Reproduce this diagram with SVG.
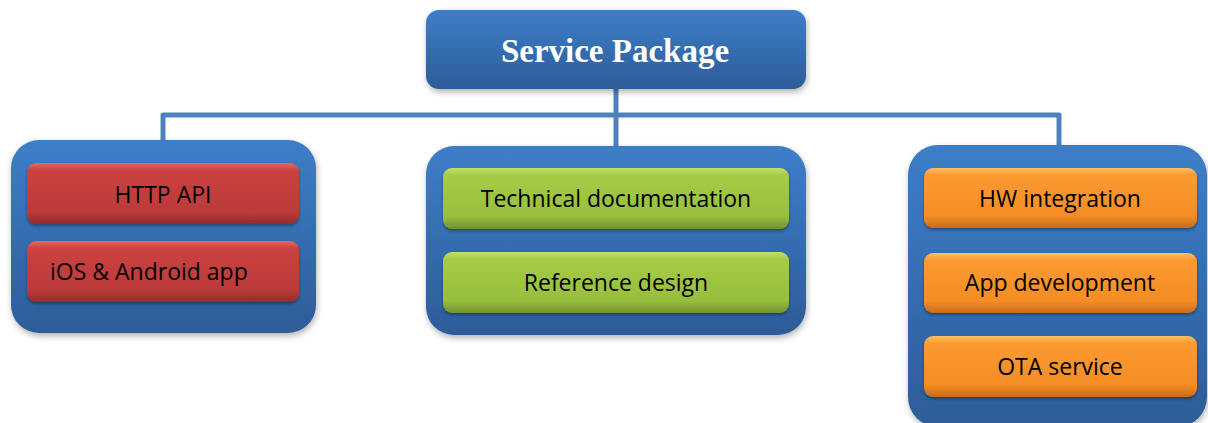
<svg xmlns="http://www.w3.org/2000/svg" width="1208" height="423" viewBox="0 0 1208 423">
<defs>
<linearGradient id="gBlue" x1="0" y1="0" x2="0" y2="1">
<stop offset="0" stop-color="#3d7ec9"/>
<stop offset="1" stop-color="#2d5c98"/>
</linearGradient>
<linearGradient id="gRed" x1="0" y1="0" x2="0" y2="1">
<stop offset="0" stop-color="#e06a67"/>
<stop offset="0.12" stop-color="#cc4240"/>
<stop offset="0.8" stop-color="#bb3a39"/>
<stop offset="1" stop-color="#962b2b"/>
</linearGradient>
<linearGradient id="gGreen" x1="0" y1="0" x2="0" y2="1">
<stop offset="0" stop-color="#c4e26a"/>
<stop offset="0.12" stop-color="#a6cb46"/>
<stop offset="0.8" stop-color="#97be3d"/>
<stop offset="1" stop-color="#738f32"/>
</linearGradient>
<linearGradient id="gOrange" x1="0" y1="0" x2="0" y2="1">
<stop offset="0" stop-color="#ffc064"/>
<stop offset="0.12" stop-color="#fb9a32"/>
<stop offset="0.8" stop-color="#f48d25"/>
<stop offset="1" stop-color="#c86c1a"/>
</linearGradient>
<filter id="sh" x="-10%" y="-10%" width="120%" height="130%">
<feDropShadow dx="1" dy="3" stdDeviation="3" flood-color="#000" flood-opacity="0.3"/>
</filter>
<filter id="sh2" x="-10%" y="-10%" width="120%" height="140%">
<feDropShadow dx="0" dy="2" stdDeviation="1.5" flood-color="#000" flood-opacity="0.35"/>
</filter>
</defs>
<style>
.cont{fill:url(#gBlue);filter:url(#sh);}
.red{fill:url(#gRed);filter:url(#sh2);}
.green{fill:url(#gGreen);filter:url(#sh2);}
.orange{fill:url(#gOrange);filter:url(#sh2);}
.lbl{font-family:"Open Sans","Liberation Sans",sans-serif;font-size:23px;fill:#000;text-anchor:middle;}
.title{font-family:"Liberation Serif","DejaVu Serif",serif;font-weight:bold;font-size:33px;fill:#fff;text-anchor:middle;}
.conn{fill:none;stroke:#4f81bd;stroke-width:5;stroke-linejoin:round;}
</style>
<rect width="1208" height="423" fill="#fff"/>
<g id="connectors">
<path class="conn" d="M163,141 V115 H1059 V146"/>
<path class="conn" d="M616,88 V147"/>
</g>
<g id="root">
<rect class="cont" x="426" y="10" width="380" height="79" rx="13"/>
<text class="title" x="615" y="62">Service Package</text>
</g>
<g id="group-left">
<rect class="cont" x="11" y="140" width="305" height="193" rx="28"/>
</g>
<g id="http-api">
<rect class="red" x="27" y="163" width="272" height="61" rx="9"/>
<text class="lbl" x="163" y="203">HTTP API</text>
</g>
<g id="ios-android">
<rect class="red" x="27" y="241" width="272" height="61" rx="9"/>
<text class="lbl" x="50" y="280" style="text-anchor:start">iOS &amp; Android app</text>
</g>
<g id="group-center">
<rect class="cont" x="426" y="146" width="380" height="189" rx="28"/>
</g>
<g id="tech-doc">
<rect class="green" x="443" y="168" width="346" height="61" rx="9"/>
<text class="lbl" x="616" y="207">Technical documentation</text>
</g>
<g id="ref-design">
<rect class="green" x="443" y="252" width="346" height="61" rx="9"/>
<text class="lbl" x="616" y="291">Reference design</text>
</g>
<g id="group-right">
<rect class="cont" x="908" y="145" width="299" height="282" rx="30"/>
</g>
<g id="hw-int">
<rect class="orange" x="924" y="168" width="273" height="60" rx="9"/>
<text class="lbl" x="1060" y="207">HW integration</text>
</g>
<g id="app-dev">
<rect class="orange" x="924" y="253" width="273" height="60" rx="9"/>
<text class="lbl" x="1060" y="291">App development</text>
</g>
<g id="ota">
<rect class="orange" x="924" y="336" width="273" height="61" rx="9"/>
<text class="lbl" x="1060" y="375">OTA service</text>
</g>
</svg>
